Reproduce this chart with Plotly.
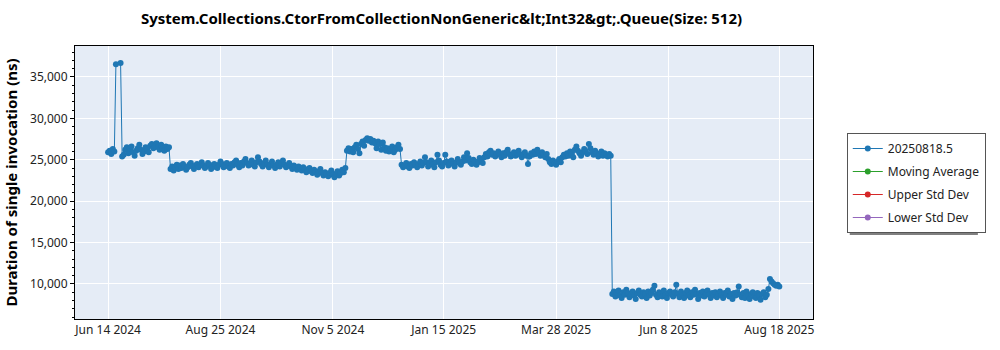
import pandas as pd
import plotly.graph_objects as go

# One slot per calendar day; None marks a day without a run
run_dates = pd.date_range("2024-06-14", "2025-08-18", freq="D")

# Duration of a single invocation (ns), by day
duration_ns = [
    # Jun 14 - Jul 23 2024
    25900, 26100, 25700, 26300, 26000, 36550, None, None, 36700, 25400,
    25600, 26200, 26500, 25800, 26300, 26600, 25900, 25500, 26100, 26400,
    26800, 26200, 25700, 26000, 26500, 26300, 25900, 26700, 26900, 26400,
    26600, 27000, 26500, 26200, 26800, 26400, 26100, 26600, 26300, 26500,
    # Jul 24 - Nov 13 2024
    23900, 24200, 23700, 24100, 24400, 23900, 24300, 24000, 24500, 24200,
    23800, 24100, 24400, 24600, 24200, 23900, 24300, 24500, 24100, 24400,
    24700, 24300, 24000, 24200, 24600, 24400, 23900, 24100, 24500, 24300,
    24000, 24400, 24800, 24500, 24100, 24300, 24600, 24200, 24000, 24500,
    24300, 24700, 24900, 24400, 24100, 24600, 24300, 24800, 25100, 24600,
    24300, 24500, 24900, 24400, 24200, 24700, 25300, 24800, 24500, 24200,
    24600, 24900, 24400, 24100, 24500, 24800, 24300, 24000, 24400, 24700,
    24200, 24500, 24900, 24400, 24100, 24300, 24600, 24200, 23900, 24300,
    24100, 23800, 24200, 24000, 23700, 24100, 23900, 23500, 23800, 24000,
    23600, 23400, 23800, 23500, 23200, 23600, 23900, 23400, 23100, 23500,
    23300, 23000, 23400, 23700, 23200, 22900, 23300, 23600, 23100, 23400,
    23800, 23500, 24000,
    # Nov 14 - Dec 18 2024
    26100, 26400, 26000, 26300, 25900, 26500, 26800,
    26300, 25800, 26900, 27200, 26700, 27400, 27600, 27300, 27500, 27100,
    27300, 27000, 26400, 27200, 26900, 26200, 27100, 26500, 26100, 26400,
    26000, 26300, 26600, 25900, 26200, 26500, 26800, 26300,
    # Dec 19 2024 - May 2 2025
    24400, 24100, 24300, 24600, 24200, 24000, 24500, 24300, 24700, 24400, 24100, 24500,
    24800, 24300, 24600, 25300, 24700, 24200, 24500, 24900, 24400, 24100,
    24700, 25600, 24900, 24400, 24200, 24600, 25600, 24800, 24300, 24600,
    24900, 24500, 24200, 24700, 25100, 24600, 24400, 24800, 25300, 24900,
    25800, 25200, 24700, 24500, 25000, 24800, 24400, 24700, 25200, 24900,
    24600, 25300, 25700, 25400, 25900, 26100, 25600, 25800, 25400, 25700,
    26000, 25600, 25300, 25800, 25500, 25900, 26200, 25700, 25400, 25600,
    25900, 25500, 25800, 26100, 25600, 25300, 25700, 25900, 25500, 24500,
    25400, 25800, 25600, 26000, 25700, 26200, 25800, 25500, 25900, 25600,
    25300, 25700, 25100, 24700, 24500, 24900, 24600, 24400, 24800, 25100,
    24700, 25300, 25600, 25400, 25800, 25500, 26000, 25700, 25300, 26200,
    26600, 26100, 25800, 25500, 25900, 26300, 26000, 25700, 26900, 26400,
    25900, 25600, 26100, 25800, 25400, 25700, 26000, 25500, 25800, 25600,
    25400, 25700, 25500,
    # May 3 - Aug 18 2025
    8800, 9100, 8500, 8900, 9200, 8600, 8300, 9000, 8700, 9300,
    8900, 8400, 8800, 9100, 8600, 8200, 8900, 9200, 8700, 8500,
    9000, 8800, 8300, 9100, 8600, 8900, 9300, 9800, 8700, 8400,
    9000, 8800, 8500, 9200, 8600, 8300, 8900, 9100, 8700, 8500,
    9000, 9900, 8800, 8400, 9100, 8700, 8300, 8900, 9200, 8600,
    8400, 9000, 8700, 9300, 8800, 8200, 8900, 8600, 9100, 8500,
    8800, 9200, 8700, 8300, 8900, 8600, 9000, 8400, 8800, 9100,
    8600, 8300, 8900, 8700, 9200, 8500, 8800, 8200, 8900, 8600,
    9000, 9700, 8700, 8400, 8900, 8300, 9100, 8600, 8200, 8800,
    9000, 8500, 8300, 8900, 8600, 8100, 8800, 9000, 8400, 8700,
    9400, 10600, 10300, 10100, 9900, 9800, 9900, 9700,
]
assert len(duration_ns) == len(run_dates)

series_names = ["20250818.5", "Moving Average", "Upper Std Dev", "Lower Std Dev"]
series_colors = ["#1f77b4", "#2ca02c", "#d62728", "#9467bd"]

x_tick_dates = ["2024-06-14", "2024-08-25", "2024-11-05", "2025-01-15",
                "2025-03-28", "2025-06-08", "2025-08-18"]
x_tick_labels = ["Jun 14 2024", "Aug 25 2024", "Nov 5 2024", "Jan 15 2025",
                 "Mar 28 2025", "Jun 8 2025", "Aug 18 2025"]

chart_title = ("System.Collections.CtorFromCollectionNonGeneric"
               "&amp;lt;Int32&amp;gt;.Queue(Size: 512)")
y_title = "Duration of single invocation (ns)"

FONT = "Noto Sans"

fig = go.Figure()
fig.add_trace(go.Scatter(
    x=run_dates, y=duration_ns, mode="lines+markers", connectgaps=True,
    name=series_names[0], legendgroup="g0",
    line=dict(color=series_colors[0], width=1),
    marker=dict(color=series_colors[0], size=6),
))
# Statistic series carry no points in this run; they only appear in the legend
for i in range(1, 4):
    fig.add_trace(go.Scatter(
        x=[None], y=[None], mode="lines+markers",
        name=series_names[i], legendgroup=f"g{i}",
        line=dict(color=series_colors[i], width=1),
        marker=dict(color=series_colors[i], size=6),
    ))

# Legend drop shadow
fig.add_shape(type="rect", xref="paper", yref="paper",
              x0=(850 - 70) / 743, x1=(979 - 70) / 743,
              y0=(319 - 235) / 273, y1=(319 - 136) / 273,
              fillcolor="#808080", line=dict(width=0), layer="above")

fig.update_layout(
    width=1000, height=350,
    margin=dict(l=70, r=187, t=46, b=31),
    paper_bgcolor="white", plot_bgcolor="#E5ECF6",
    font=dict(family=FONT, size=12, color="#222"),
    title=dict(text="<b>" + chart_title + "</b>", x=441.5 / 1000, xanchor="center",
               y=1 - 19 / 350, yanchor="middle", font=dict(size=15, color="black")),
    showlegend=True,
    legend=dict(x=(847 - 70) / 743, xanchor="left", y=(319 - 133) / 273, yanchor="top",
                bgcolor="white", bordercolor="#555", borderwidth=1,
                font=dict(size=12, color="#222"), tracegroupgap=4),
    xaxis=dict(
        range=["2024-05-23T19:00", "2025-09-08T14:00"],
        tickmode="array", tickvals=x_tick_dates, ticktext=x_tick_labels,
        showgrid=True, gridcolor="white", gridwidth=1,
        showline=True, linecolor="black", linewidth=1, mirror=True,
        ticks="", zeroline=False,
    ),
    yaxis=dict(
        range=[5770, 38740], dtick=5000, tickformat=",d",
        showgrid=True, gridcolor="white", gridwidth=1,
        showline=True, linecolor="black", linewidth=1, mirror=True,
        ticks="outside", ticklen=4, tickcolor="black", zeroline=False,
        minor=dict(dtick=1000, ticks="outside", ticklen=2, tickcolor="black", showgrid=False),
        title=dict(text="<b>" + y_title + "</b>", font=dict(size=15, color="black"), standoff=8),
    ),
)

fig.write_html("out.html")
